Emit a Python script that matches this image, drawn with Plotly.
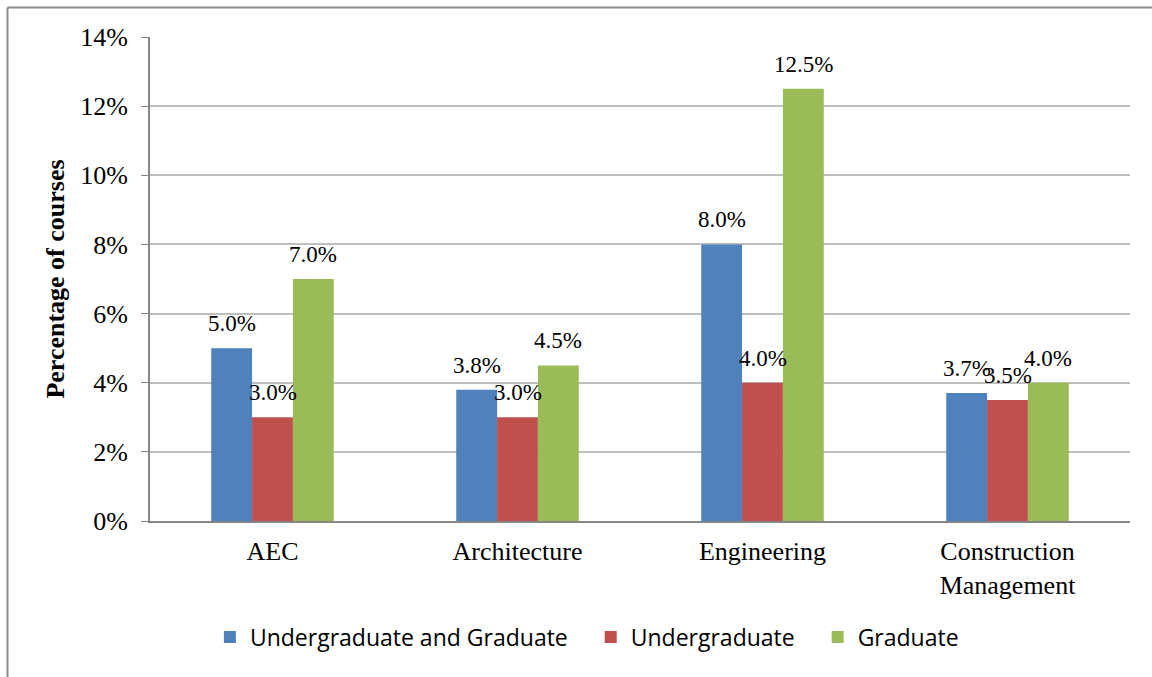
import plotly.graph_objects as go

categories = ["AEC", "Architecture", "Engineering", "Construction<br>Management"]
series_names = ["Undergraduate and Graduate", "Undergraduate", "Graduate"]
ug_and_g = [5.0, 3.8, 8.0, 3.7]
ug = [3.0, 3.0, 4.0, 3.5]
grad = [7.0, 4.5, 12.5, 4.0]
colors = ["#4f81bd", "#c0504d", "#9bbb59"]
y_ticks = [0, 2, 4, 6, 8, 10, 12, 14]
y_tick_labels = [f"{v}%" for v in y_ticks]

plot_w = 980
bargap = 0.5
bar_px = plot_w / len(categories) * (1 - bargap) / 3

fig = go.Figure()
annotations = []
for i, (name, vals, col) in enumerate(zip(series_names, [ug_and_g, ug, grad], colors)):
    fig.add_trace(go.Bar(
        x=categories, y=vals, name=name + "\u00a0\u00a0\u00a0",
        marker=dict(color=col, line=dict(width=0)),
    ))
    for c, v in zip(categories, vals):
        annotations.append(dict(
            x=c, y=v, xref="x", yref="y", text=f"{v:.1f}%", showarrow=False,
            xanchor="center", yanchor="bottom", xshift=(i - 1) * bar_px, yshift=10,
            font=dict(family="Liberation Serif", size=23, color="#000000"),
        ))

fig.update_layout(
    width=1152, height=677,
    margin=dict(l=150, r=22, t=37, b=156),
    paper_bgcolor="white", plot_bgcolor="white",
    barmode="group", bargap=bargap, bargroupgap=0,
    showlegend=True,
    legend=dict(orientation="h", x=0.455, xanchor="center", y=-0.24, yanchor="middle",
                font=dict(family="Open Sans", size=23, color="#000000"),
                itemwidth=30, traceorder="normal"),
    font=dict(family="Liberation Serif", color="#000000"),
    xaxis=dict(showline=True, linecolor="#868686", linewidth=2,
               tickfont=dict(family="Liberation Serif", size=26),
               ticks="", ticklabelstandoff=6),
    yaxis=dict(range=[0, 14], tickvals=y_ticks, ticktext=y_tick_labels,
               showline=True, linecolor="#868686", linewidth=2,
               ticks="outside", ticklen=7, tickcolor="#868686",
               gridcolor="#bfbfbf", gridwidth=2,
               tickfont=dict(family="Liberation Serif", size=26),
               ticklabelstandoff=8,
               title=dict(text="<b>Percentage of courses</b>",
                          font=dict(family="Liberation Serif", size=26), standoff=8),
               zeroline=False),
    annotations=annotations,
    shapes=[
        dict(type="line", xref="paper", yref="paper", x0=(7.5-150)/980, x1=(1152-150)/980,
             y0=(521-7.5)/484, y1=(521-7.5)/484, line=dict(color="#8c8c8c", width=2)),
        dict(type="line", xref="paper", yref="paper", x0=(7.5-150)/980, x1=(7.5-150)/980,
             y0=(521-7.5)/484, y1=(521-677)/484, line=dict(color="#8c8c8c", width=2)),
    ],
)

fig.write_html("out.html")
